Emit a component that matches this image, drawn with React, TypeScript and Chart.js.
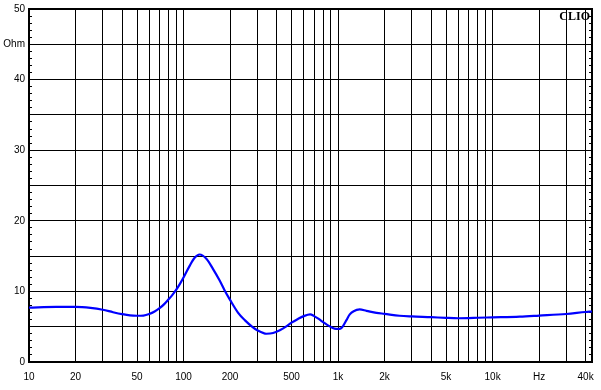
import React, { useEffect, useRef } from "react";
import { Chart, registerables } from "chart.js";

Chart.register(...registerables);

// Frequency (Hz) of each sampled point
const freqs: number[] = [
  10, 15, 20, 25, 30, 35, 40, 45, 50, 55, 60, 65, 70, 75, 80, 85, 90, 95, 100,
  110, 118, 127, 141, 155, 171, 185, 200, 225, 250, 280, 300, 344, 380, 420,
  460, 500, 550, 600, 660, 700, 750, 800, 850, 900, 950, 1000, 1040, 1077,
  1133, 1191, 1262, 1380, 1527, 1773, 2000, 2500, 3000, 4000, 5000, 6000,
  7000, 8000, 10000, 15000, 20000, 30000, 40000, 44000,
];

// Impedance (Ohm) at each frequency
const impedance: number[] = [
  7.7, 7.8, 7.8, 7.66, 7.4, 7.05, 6.78, 6.6, 6.55, 6.58, 6.8, 7.15, 7.62, 8.2,
  8.88, 9.55, 10.28, 11.1, 11.96, 13.69, 14.77, 15.23, 14.6, 13.2, 11.58, 10.1,
  8.8, 7.0, 5.9, 4.95, 4.5, 4.0, 4.1, 4.5, 5.0, 5.57, 6.1, 6.5, 6.74, 6.5, 6.1,
  5.65, 5.25, 4.95, 4.72, 4.68, 4.75, 5.09, 5.93, 6.74, 7.2, 7.44, 7.25, 6.96,
  6.82, 6.55, 6.45, 6.35, 6.25, 6.2, 6.22, 6.27, 6.32, 6.42, 6.57, 6.8, 7.08,
  7.15,
];

// Vertical grid lines (Hz)
const xGrid: number[] = [
  10, 20, 30, 40, 50, 60, 70, 80, 90, 100, 200, 300, 400, 500, 600, 700, 800,
  900, 1000, 2000, 3000, 4000, 5000, 6000, 7000, 8000, 9000, 10000, 20000,
  30000, 40000,
];

// Labelled frequency ticks
const xLabelValues: number[] = [10, 20, 50, 100, 200, 500, 1000, 2000, 5000, 10000, 20000, 40000];
const xLabelTexts: string[] = ["10", "20", "50", "100", "200", "500", "1k", "2k", "5k", "10k", "Hz", "40k"];

// Labelled impedance ticks
const yLabelValues: number[] = [0, 10, 20, 30, 40, 45, 50];
const yLabelTexts: string[] = ["0", "10", "20", "30", "40", "Ohm", "50"];

const X_MIN = 10;
const X_MAX = 44000;
const Y_MIN = 0;
const Y_MAX = 50;

const FONT = "'Liberation Sans', Arial, sans-serif";

const zeroPad = (scale: any) => {
  scale.paddingLeft = 0;
  scale.paddingRight = 0;
  scale.paddingTop = 0;
  scale.paddingBottom = 0;
};

const clioPlugin = {
  id: "clioMark",
  afterDraw(chart: any) {
    const { ctx, chartArea } = chart;
    ctx.save();
    ctx.font = "bold 12px 'Liberation Serif', 'Times New Roman', serif";
    ctx.fillStyle = "#000";
    ctx.textAlign = "right";
    ctx.textBaseline = "alphabetic";
    ctx.fillText("CLIO", chartArea.right - 2, chartArea.top + 10.5);
    ctx.restore();
  },
};

export default function App() {
  const canvasRef = useRef<HTMLCanvasElement | null>(null);

  useEffect(() => {
    document.body.style.margin = "0";
    const canvas = canvasRef.current;
    if (!canvas) return;

    const chart = new Chart(canvas, {
      type: "line",
      data: {
        datasets: [
          {
            data: freqs.map((f, i) => ({ x: f, y: impedance[i] })),
            borderColor: "#0000ff",
            borderWidth: 2.2,
            pointRadius: 0,
            fill: false,
            cubicInterpolationMode: "monotone",
            xAxisID: "x",
            yAxisID: "y",
          },
        ],
      },
      options: {
        animation: false,
        responsive: false,
        devicePixelRatio: 1,
        layout: { padding: 0 },
        plugins: {
          legend: { display: false },
          tooltip: { enabled: false },
        },
        scales: {
          x: {
            type: "logarithmic",
            position: "bottom",
            min: X_MIN,
            max: X_MAX,
            afterBuildTicks: (scale: any) => {
              scale.ticks = xGrid.map((v) => ({ value: v }));
            },
            afterFit: (scale: any) => {
              scale.height = 28;
              zeroPad(scale);
            },
            ticks: {
              autoSkip: false,
              maxRotation: 0,
              minRotation: 0,
              padding: 9,
              color: "#000",
              font: { family: FONT, size: 10 },
              callback: (value: any) => {
                const idx = xLabelValues.indexOf(Number(value));
                return idx >= 0 ? xLabelTexts[idx] : "";
              },
            },
            grid: { color: "#000", lineWidth: 1, drawTicks: false },
            border: { color: "#000", width: 2 },
          },
          xTop: {
            type: "logarithmic",
            position: "top",
            min: X_MIN,
            max: X_MAX,
            afterFit: (scale: any) => {
              scale.height = 9;
              zeroPad(scale);
            },
            ticks: { display: false },
            grid: { drawOnChartArea: false, drawTicks: false },
            border: { color: "#000", width: 2 },
          },
          y: {
            type: "linear",
            position: "left",
            min: Y_MIN,
            max: Y_MAX,
            afterFit: (scale: any) => {
              scale.width = 29;
              zeroPad(scale);
            },
            ticks: {
              stepSize: 1,
              autoSkip: false,
              padding: 7,
              color: "#000",
              font: { family: FONT, size: 10 },
              callback: (value: any) => {
                const idx = yLabelValues.indexOf(Number(value));
                return idx >= 0 ? yLabelTexts[idx] : "";
              },
            },
            grid: {
              color: (ctx: any) =>
                ctx.tick && ctx.tick.value % 5 === 0 ? "#000" : "rgba(0,0,0,0)",
              tickColor: "#000",
              tickLength: -3,
              lineWidth: 1,
            },
            border: { color: "#000", width: 2 },
          },
          yRight: {
            type: "linear",
            position: "right",
            min: Y_MIN,
            max: Y_MAX,
            afterFit: (scale: any) => {
              scale.width = 9;
              zeroPad(scale);
            },
            ticks: { stepSize: 1, autoSkip: false, display: false },
            grid: {
              drawOnChartArea: false,
              tickColor: "#000",
              tickLength: -3,
              lineWidth: 1,
            },
            border: { color: "#000", width: 2 },
          },
        },
      },
      plugins: [clioPlugin],
    } as any);

    return () => chart.destroy();
  }, []);

  return (
    <div style={{ width: 601, height: 390, background: "#fff" }}>
      <canvas ref={canvasRef} width={601} height={390} style={{ display: "block" }} />
    </div>
  );
}
